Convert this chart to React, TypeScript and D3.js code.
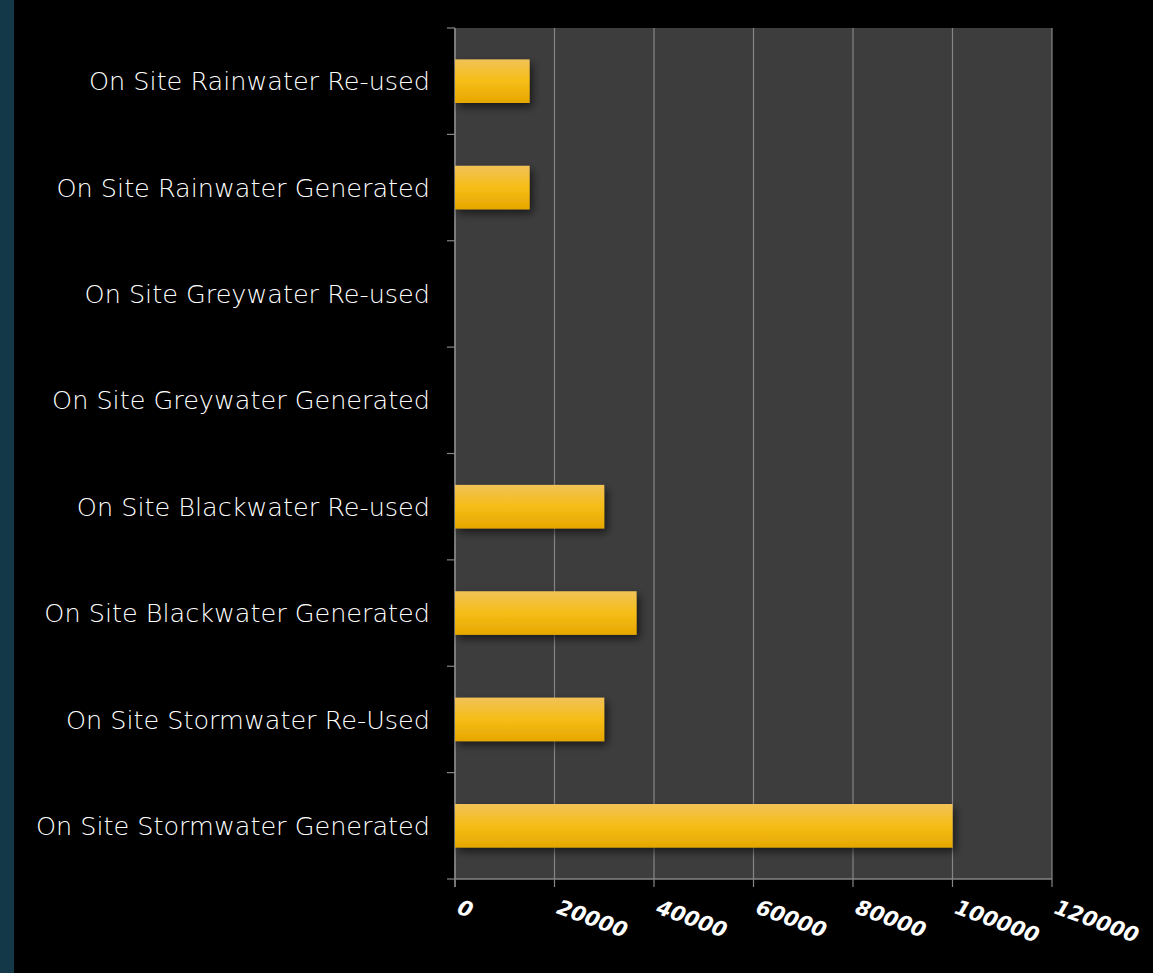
import React from "react";
import * as d3 from "d3";

const categories = [
  "On Site Rainwater Re-used",
  "On Site Rainwater Generated",
  "On Site Greywater Re-used",
  "On Site Greywater Generated",
  "On Site Blackwater Re-used",
  "On Site Blackwater Generated",
  "On Site Stormwater Re-Used",
  "On Site Stormwater Generated",
];
const values = [15000, 15000, 0, 0, 30000, 36500, 30000, 100000];
const xTicks = [0, 20000, 40000, 60000, 80000, 100000, 120000];

const W = 1153;
const H = 973;
const left = 455;
const right = 1052;
const top = 28;
const bottom = 879;

export default function App() {
  const x = d3.scaleLinear().domain([0, 120000]).range([left, right]);
  const y = d3
    .scaleBand<string>()
    .domain(categories)
    .range([top, bottom])
    .paddingInner(0.59)
    .paddingOuter(0.295);
  const bandStep = (bottom - top) / categories.length;
  const boundaries = d3.range(categories.length + 1).map((i) => top + i * bandStep);

  return (
    <svg
      width={W}
      height={H}
      style={{ position: "absolute", left: 0, top: 0, display: "block" }}
    >
      <defs>
        <linearGradient id="barGrad" x1="0" y1="0" x2="0" y2="1">
          <stop offset="0%" stopColor="#f1c257" />
          <stop offset="50%" stopColor="#f6bd16" />
          <stop offset="100%" stopColor="#e6a700" />
        </linearGradient>
        <filter id="shadow" x="-10%" y="-30%" width="130%" height="180%">
          <feGaussianBlur in="SourceAlpha" stdDeviation="4" />
          <feOffset dx="3" dy="4" result="blur" />
          <feComponentTransfer>
            <feFuncA type="linear" slope="0.6" />
          </feComponentTransfer>
          <feMerge>
            <feMergeNode />
            <feMergeNode in="SourceGraphic" />
          </feMerge>
        </filter>
      </defs>
      <rect x={0} y={0} width={W} height={H} fill="#000" />
      <rect x={0} y={0} width={14} height={H} fill="#133848" />
      <rect x={left} y={top} width={right - left} height={bottom - top} fill="#3d3d3d" />
      {xTicks.map((t) => (
        <line
          key={"g" + t}
          x1={x(t)}
          x2={x(t)}
          y1={top}
          y2={bottom + 8}
          stroke="#858585"
          strokeWidth={1.2}
        />
      ))}
      <line x1={left} x2={right} y1={bottom} y2={bottom} stroke="#858585" strokeWidth={1.5} />
      <line x1={left} x2={left} y1={top} y2={bottom + 8} stroke="#858585" strokeWidth={1.5} />
      {boundaries.map((b, i) => (
        <line key={"t" + i} x1={left - 8} x2={left} y1={b} y2={b} stroke="#858585" strokeWidth={1.2} />
      ))}
      {categories.map((c, i) =>
        values[i] > 0 ? (
          <rect
            key={"b" + c}
            x={x(0)}
            y={y(c)}
            width={x(values[i]) - x(0)}
            height={y.bandwidth()}
            fill="url(#barGrad)"
            filter="url(#shadow)"
          />
        ) : null
      )}
      {categories.map((c) => (
        <text
          key={"l" + c}
          x={430}
          y={(y(c) ?? 0) + y.bandwidth() / 2}
          dy="0.36em"
          textAnchor="end"
          fill="#ffffff"
          fontFamily="'DejaVu Sans', sans-serif"
          fontWeight={200}
          fontSize={25.5}
        >
          {c}
        </text>
      ))}
      {xTicks.map((t) => (
        <text
          key={"x" + t}
          transform={`translate(${x(t) + 1},${913}) rotate(20)`}
          fill="#ffffff"
          fontFamily="'DejaVu Sans', sans-serif"
          fontStyle="italic"
          fontWeight={700}
          fontSize={21}
          textAnchor="start"
        >
          {t}
        </text>
      ))}
    </svg>
  );
}
